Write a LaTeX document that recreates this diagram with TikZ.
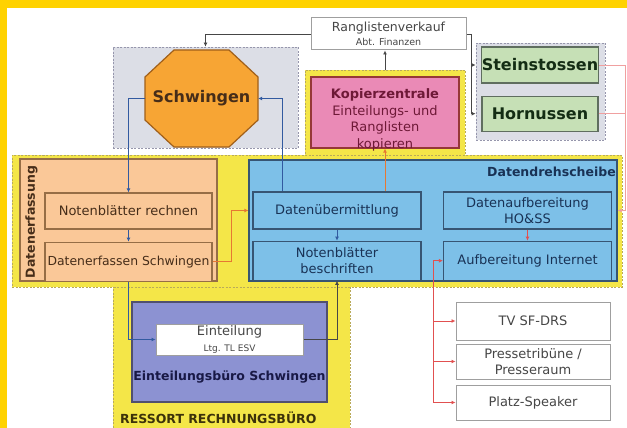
\documentclass[tikz,border=0pt]{standalone}
\usepackage{fontspec}
\setmainfont{DejaVu Sans}
\usepackage{tikz}
\usetikzlibrary{arrows.meta,positioning,calc}
\definecolor{FrameGold}{RGB}{255,210,0}
\definecolor{BandYellow}{RGB}{244,230,72}
\definecolor{YellowDash}{RGB}{185,170,90}
\definecolor{GroupGray}{RGB}{220,222,230}
\definecolor{GrayDash}{RGB}{150,150,172}
\definecolor{PeachFill}{RGB}{250,200,152}
\definecolor{PeachLine}{RGB}{150,110,70}
\definecolor{SkyFill}{RGB}{125,192,232}
\definecolor{SkyLine}{RGB}{55,85,115}
\definecolor{OctoOrange}{RGB}{247,165,52}
\definecolor{OctoLine}{RGB}{160,95,25}
\definecolor{KopPink}{RGB}{234,138,182}
\definecolor{KopLine}{RGB}{150,55,55}
\definecolor{LeafGreen}{RGB}{198,224,182}
\definecolor{LeafLine}{RGB}{95,110,95}
\definecolor{BuroViolet}{RGB}{140,146,210}
\definecolor{BuroLine}{RGB}{80,80,110}
\definecolor{TxtBlue}{RGB}{25,50,85}
\definecolor{TxtBrown}{RGB}{70,45,25}
\definecolor{TxtGreen}{RGB}{20,45,20}
\definecolor{TxtMaroon}{RGB}{110,25,55}
\definecolor{TxtGray}{RGB}{70,70,70}
\definecolor{TxtNavy}{RGB}{25,25,70}
\definecolor{TxtOlive}{RGB}{60,50,10}
\definecolor{LineBlue}{RGB}{50,90,160}
\definecolor{LineOrange}{RGB}{230,120,50}
\definecolor{LineRed}{RGB}{225,80,80}
\definecolor{LinePink}{RGB}{240,160,160}

\begin{document}
\begin{tikzpicture}[
    x=1pt, y=-1pt,
    >={Latex[length=4pt,width=4pt]},
    % -- node styles --
    box/.style    = {rectangle, line width=1.2pt, align=center, inner sep=0pt,
                     font=\fontsize{13}{16}\selectfont},
    peach/.style  = {box, fill=PeachFill, draw=PeachLine, text=TxtBrown,
                     minimum width=167pt},
    sky/.style    = {box, fill=SkyFill, draw=SkyLine, text=TxtBlue,
                     minimum width=168pt},
    plain/.style  = {box, fill=white, draw=gray!75, line width=1pt,
                     text=TxtGray, minimum width=154pt},
    leaf/.style   = {box, fill=LeafGreen, draw=LeafLine, text=TxtGreen,
                     minimum width=116pt, font=\bfseries\fontsize{16}{19}\selectfont},
    grp/.style    = {rectangle, inner sep=0pt, line width=0.8pt,
                     dash pattern=on 2pt off 1.5pt},
    graygrp/.style= {grp, fill=GroupGray, draw=GrayDash},
    yelgrp/.style = {grp, fill=BandYellow, draw=YellowDash},
    tag/.style    = {inner sep=0pt, font=\bfseries\fontsize{12.5}{15}\selectfont},
    octo/.style   = {fill=OctoOrange, draw=OctoLine, line width=1.2pt},
    % -- connector styles --
    kline/.style  = {->, line width=0.8pt, TxtGray},
    bline/.style  = {->, line width=0.8pt, LineBlue},
    oline/.style  = {->, line width=0.8pt, LineOrange},
    rline/.style  = {->, line width=0.8pt, LineRed},
    pline/.style  = {->, line width=0.8pt, LinePink},
]
\useasboundingbox (0,0) rectangle (627,428);

% frame
\fill[FrameGold] (0,0) rectangle (627,8.5);
\fill[FrameGold] (0,0) rectangle (7,428);

% =====================================================================
%  GROUPS
% =====================================================================
\node[yelgrp, minimum width=237pt, minimum height=150pt] (ressort) at (231.5,358) {};
\node[yelgrp, minimum width=610pt, minimum height=132pt] (band) at (317,221) {};
\node[graygrp, minimum width=185pt, minimum height=101pt] (sgrp) at (205.5,97.5) {};
\node[graygrp, minimum width=129pt, minimum height=97pt] (hgrp) at (540.5,91.5) {};
\node[yelgrp, minimum width=160pt, minimum height=85pt] (kgrp) at (385,112.5) {};

% =====================================================================
%  TOP ROW: Ranglistenverkauf, Schwingen, Kopierzentrale, Steinstossen
% =====================================================================
\node[plain, minimum width=155pt, minimum height=32pt,
      font=\fontsize{12.5}{14}\selectfont] (rank) at (388.5,34)
    {Ranglistenverkauf\\{\fontsize{9.5}{11}\selectfont Abt. Finanzen}};

\filldraw[octo, shift={(201.5,98.5)}]
    (-27.5,-48.5) -- (27.5,-48.5) -- (56.5,-21.5) -- (56.5,21.5)
    -- (27.5,48.5) -- (-27.5,48.5) -- (-56.5,21.5) -- (-56.5,-21.5) -- cycle;
\node[inner sep=0pt, minimum width=113pt, minimum height=97pt, text=TxtBrown,
      font=\bfseries\fontsize{16}{19}\selectfont] (schw) at (201.5,98.5) {Schwingen};

\node[box, fill=KopPink, draw=KopLine, minimum width=148pt, minimum height=71pt]
    (kop) at (385,112.5) {};
\node[align=center, inner sep=0pt, text=TxtMaroon,
      font=\fontsize{13}{16.5}\selectfont] (koplbl) at (385,120)
    {\textbf{Kopierzentrale}\\Einteilungs- und\\Ranglisten\\kopieren};

\node[leaf, minimum height=36pt] (stein) at (540,65) {Steinstossen};
\node[leaf, minimum height=35pt, below=12pt of stein] (horn) {Hornussen};

% =====================================================================
%  MIDDLE BAND: Datenerfassung | Datendrehscheibe
% =====================================================================
\node[box, fill=PeachFill, draw=PeachLine, minimum width=197pt, minimum height=122pt]
    (dfass) at (118.5,220) {};
\node[tag, rotate=90, text=TxtBrown] (dfasslbl) at (31.5,222) {Datenerfassung};
\node[peach, minimum height=36pt] (nbr) at (128.5,211) {Notenblätter rechnen};
\node[peach, minimum height=39pt, below=12pt of nbr,
      font=\fontsize{12.4}{15}\selectfont] (dsch) {Datenerfassen Schwingen};

\node[box, fill=SkyFill, draw=SkyLine, minimum width=368pt, minimum height=121pt]
    (dreh) at (433,220.5) {};
\node[tag, anchor=east, text=TxtBlue] (drehlbl) at (616,172) {Datendrehscheibe};
\node[sky, minimum height=37pt] (dueb) at (337,210.5) {Datenübermittlung};
\node[sky, minimum height=39pt, below=11pt of dueb] (nbb) {Notenblätter\\beschriften};
\node[sky, minimum height=37pt] (dauf) at (527.5,210.5) {Datenaufbereitung\\HO\&SS};
\node[sky, minimum height=39pt, below=11pt of dauf] (inet) {Aufbereitung Internet};

% =====================================================================
%  BOTTOM: Einteilungsbuero, media outlets
% =====================================================================
\node[box, fill=BuroViolet, draw=BuroLine, minimum width=195pt, minimum height=100pt]
    (buro) at (229.5,352) {};
\node[tag, text=TxtNavy] (burolbl) at (229.5,377) {Einteilungsbüro Schwingen};
\node[plain, minimum width=147pt, minimum height=31pt] (eint) at (229.5,339.5)
    {Einteilung\\{\fontsize{9}{11}\selectfont Ltg. TL ESV}};
\node[tag, anchor=west, text=TxtOlive] (ressortlbl) at (120,418) {RESSORT RECHNUNGSBÜRO};

\node[plain, minimum height=38pt] (tv) at (533,321) {TV SF-DRS};
\node[plain, minimum height=35pt, below=3pt of tv] (presse) {Pressetribüne /\\Presseraum};
\node[plain, minimum height=35pt, below=5pt of presse] (spk) {Platz-Speaker};

% =====================================================================
%  CONNECTORS
% =====================================================================
\draw[kline] (rank.west) -| (sgrp.north);
\coordinate (rrail) at (471,34);
\draw[kline] (rank.east) -- (rrail) |- (hgrp.west |- stein);
\draw[kline] (rrail) |- (hgrp.west |- horn);
\draw[kline] (kgrp.north) -- (kgrp.north |- rank.south);

\draw[bline] (schw.west) -| (nbr.north);
\draw[bline] (nbr) -- (dsch);
\draw[bline] (dsch.south) |- (eint.west);
\draw[kline] (eint.east) -| (nbb.south);
\draw[bline] (dueb) -- (nbb);
\draw[bline] ([xshift=30pt]dueb.north west) |- (schw.east);

\draw[oline] (dsch.east) -- ++(19,0) |- (dreh.west |- dueb);
\draw[oline] (dueb.north -| kop.south) -- (kop.south);

\draw[rline] (dauf) -- (inet);
\coordinate (prail) at (433,0);
\draw[rline, <->] (inet.west) -| (prail |- spk) -- (spk.west);
\draw[rline] (prail |- tv) -- (tv.west);
\draw[rline] (prail |- presse) -- (presse.west);

% -- right rail back into Datendrehscheibe
\coordinate (srail) at (625,0);
\draw[pline] (stein.east) -| (srail |- dauf) -- (dreh.east |- dauf);
\draw[pline, -] (horn.east) -- (horn.east -| srail);

\end{tikzpicture}
\end{document}
